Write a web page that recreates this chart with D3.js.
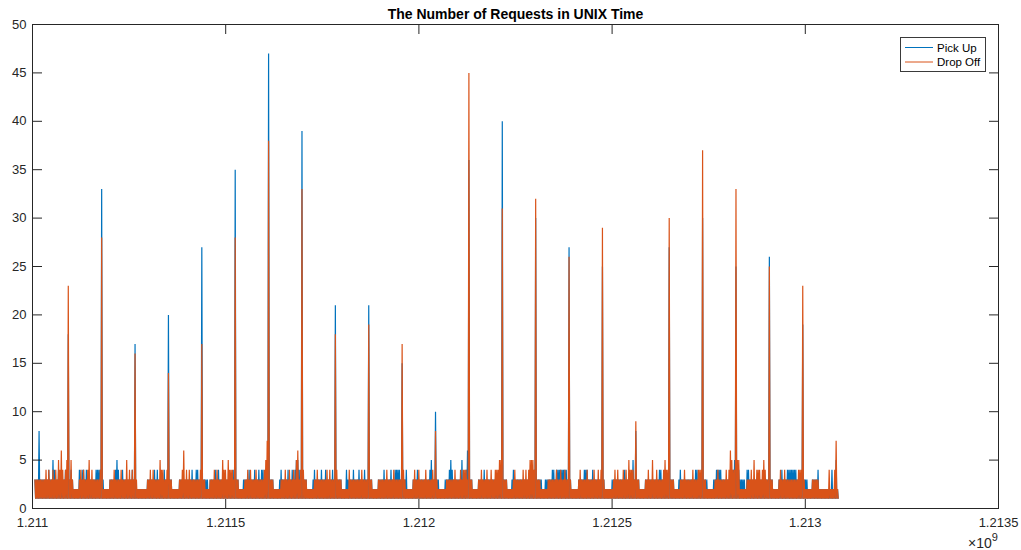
<!DOCTYPE html>
<html>
<head>
<meta charset="utf-8">
<script src="https://cdn.jsdelivr.net/npm/d3@7"></script>
<style>
  html, body { margin: 0; padding: 0; background: #ffffff; }
  svg { display: block; }
  text { font-family: "Liberation Sans", Arial, Helvetica, sans-serif; }
</style>
</head>
<body>
<svg id="chart" width="1021" height="550"></svg>
<script>
// ---- data -------------------------------------------------------------
const chartTitle = "The Number of Requests in UNIX Time";
const seriesNames = ["Pick Up", "Drop Off"];

// Samples are half-hourly; each string holds one day (48 samples, spaces only for readability).
// "*" marks the day's peak, taken in order from the matching peaks array.
const startTime = 1211006200;
const daySeconds = 86400;
const slotSeconds = 1800;

const pickUpDays = [
  "31313181 31313131 31314131 31514131 31413131 31314131",
  "*1314131 21212121 41314141 31413131 31313131 41414141",
  "*1312121 21213131 31314151 41313141 31313131 31314131",
  "*1212121 21212121 21313131 31314131 41313131 31413131",
  "*1313121 21212121 31313131 31313131 31413131 41413131",
  "*1313131 31213131 31314131 41313131 31313131 31313141",
  "*1313121 21213131 31314131 31314131 31413141 41313131",
  "*1313131 21212121 31413131 31314131 31413141 51514131",
  "*1313131 21212121 31413131 31314131 31413131 31314131",
  "*1313131 31212121 41313131 31413131 31413131 31413131",
  "*1313121 21212131 31313141 31313131 41313141 41414131",
  "*1313141 21212121 31313141 31313131 31313131 41513131",
  "*1313121 21212131 31314151 41313131 31313151 31314161",
  "*1313121 21212131 31313141 31313131 31313131 31313131",
  "*1313131 21212131 41313131 31313131 31313131 41413141",
  "*1313131 31212131 31313131 41413141 41414141 41414131",
  "*1312121 21212131 31313141 41413131 31413131 31313131",
  "*1312121 21212131 31313131 31313131 41313131 31315131",
  "*1313121 21212131 31313131 31313131 31414131 31313131",
  "*1313131 21212131 41313131 31313131 31313141 41313131",
  "*1313131 21212121 31314141 41413131 31313131 31314151",
  "*1314131 31313121 41413131 31313131 31313131 31313131",
  "*1313121 21212131 31413131 31414141 41414141 31313131",
  "*1313131 21212131 31313141 21212121 21212121 21412121",
  "*121"
];
const dropOffDays = [
  "31313131 31313131 41314131 31413141 31514161 41314151",
  "*1315131 21212121 31413141 31314151 31413131 31313141",
  "*1212121 21213131 31413131 31314131 31315131 41314131",
  "*1312121 21212121 21313141 31413131 31315141 41313141",
  "*1313121 21212121 31314161 31413141 31313131 31313141",
  "*1313121 21213131 31413141 31313151 41413151 41414131",
  "*1313121 21212131 31413141 31313141 31313131 31415171",
  "*1313131 21212121 21313131 41313141 31314131 51613141",
  "*1413131 21212121 21313141 31313131 31314131 41313131",
  "*1413131 31212121 21214131 31313131 31313141 31313131",
  "*1313121 21212131 31313131 31413131 31314131 31313131",
  "*1413121 21212121 31413131 41313131 31413131 31314131",
  "*1312121 21212121 31313131 31314131 31314131 41414131",
  "*1313121 21212131 31413131 31413131 41313141 41415151",
  "*1313131 21212121 31413131 31313141 31413141 51515141",
  "*1313131 21212121 21313131 31313141 31314131 31413131",
  "*1312121 21212131 41313131 31413131 31314131 31413141",
  "*1312121 21212121 31413141 31313141 31413151 41414131",
  "*1313121 21212131 31413131 51313141 31313131 41514141",
  "*1313131 21212121 31313141 31313131 31413131 31414141",
  "*1313121 21212121 21313141 31313131 31413141 61514141",
  "*1515121 21212121 31313141 31513141 41413141 51413131",
  "*1313121 21212131 41313141 31313131 31313131 31414141",
  "*1312121 21212131 31313131 21212121 21212141 21212141",
  "*121"
];
const pickUpPeaks  = [18, 33, 17, 20, 27, 35, 47, 39, 21, 21, 15, 10, 36, 40, 30, 27, 25, 8, 27, 30, 25, 26, 19, 5];
const dropOffPeaks = [23, 28, 16, 14, 17, 28, 38, 33, 18, 19, 17, 8, 45, 31, 32, 26, 29, 9, 30, 37, 33, 25, 23, 7];

const xTickValues = [1.211e9, 1.2115e9, 1.212e9, 1.2125e9, 1.213e9, 1.2135e9];
const xTickLabels = ["1.211", "1.2115", "1.212", "1.2125", "1.213", "1.2135"];
const yTickValues = [0, 5, 10, 15, 20, 25, 30, 35, 40, 45, 50];
const yTickLabels = ["0", "5", "10", "15", "20", "25", "30", "35", "40", "45", "50"];
const seriesColors = ["#0072BD", "#D95319"];

// ---- build point lists --------------------------------------------------
function buildSeries(days, peaks) {
  const pts = [];
  let k = 0;
  days.forEach((s, d) => {
    const chars = s.replace(/\s+/g, "");
    for (let i = 0; i < chars.length; i++) {
      const c = chars[i];
      const v = c === "*" ? peaks[k++] : +c;
      pts.push({ t: startTime + d * daySeconds + i * slotSeconds, v });
    }
  });
  return pts;
}
const pickUp = buildSeries(pickUpDays, pickUpPeaks);
const dropOff = buildSeries(dropOffDays, dropOffPeaks);

// ---- layout -------------------------------------------------------------
const svg = d3.select("#chart");
const plot = { left: 32.5, right: 998.5, top: 24.5, bottom: 508.5 };
const axisColor = "#262626";

const x = d3.scaleLinear().domain([1.211e9, 1.2135e9]).range([plot.left, plot.right]);
const y = d3.scaleLinear().domain([0, 50]).range([plot.bottom, plot.top]);

// plot background
svg.append("rect")
  .attr("x", plot.left).attr("y", plot.top)
  .attr("width", plot.right - plot.left).attr("height", plot.bottom - plot.top)
  .attr("fill", "#ffffff");

// ---- series -------------------------------------------------------------
const line = d3.line().x(d => x(d.t)).y(d => y(d.v));
[pickUp, dropOff].forEach((pts, i) => {
  svg.append("path")
    .datum(pts)
    .attr("d", line)
    .attr("fill", "none")
    .attr("stroke", seriesColors[i])
    .attr("stroke-width", 1.2);
});

// ---- axes (ticks point inward on all four sides) ------------------------
const tickLen = 9.5;
function styleAxis(g) {
  g.select(".domain").remove();
  g.selectAll(".tick line").attr("stroke", axisColor).attr("stroke-width", 1);
  g.selectAll(".tick text")
    .attr("fill", axisColor)
    .style("font-size", "13px");
}

svg.append("g")
  .attr("transform", `translate(0,${plot.bottom})`)
  .call(d3.axisBottom(x).tickValues(xTickValues)
    .tickFormat((d, i) => xTickLabels[i])
    .tickSizeInner(-tickLen).tickSizeOuter(0).tickPadding(9).offset(0))
  .call(styleAxis);

svg.append("g")
  .attr("transform", `translate(0,${plot.top})`)
  .call(d3.axisTop(x).tickValues(xTickValues).tickFormat("")
    .tickSizeInner(-tickLen).tickSizeOuter(0).offset(0))
  .call(styleAxis);

svg.append("g")
  .attr("transform", `translate(${plot.left},0)`)
  .call(d3.axisLeft(y).tickValues(yTickValues)
    .tickFormat((d, i) => yTickLabels[i])
    .tickSizeInner(-tickLen).tickSizeOuter(0).tickPadding(6).offset(0))
  .call(styleAxis);

svg.append("g")
  .attr("transform", `translate(${plot.right},0)`)
  .call(d3.axisRight(y).tickValues(yTickValues).tickFormat("")
    .tickSizeInner(-tickLen).tickSizeOuter(0).offset(0))
  .call(styleAxis);

// axes box
svg.append("rect")
  .attr("x", plot.left).attr("y", plot.top)
  .attr("width", plot.right - plot.left).attr("height", plot.bottom - plot.top)
  .attr("fill", "none").attr("stroke", axisColor).attr("stroke-width", 1);

// exponent label for the x axis
const expo = svg.append("text")
  .attr("x", 968).attr("y", 548)
  .attr("fill", axisColor)
  .style("font-size", "14px")
  .text("\u00d710");
expo.append("tspan")
  .attr("dy", -7)
  .style("font-size", "11px")
  .text("9");

// title
svg.append("text")
  .attr("x", (plot.left + plot.right) / 2)
  .attr("y", 19)
  .attr("text-anchor", "middle")
  .attr("fill", "#000000")
  .style("font-size", "14px")
  .style("font-weight", "bold")
  .text(chartTitle);

// ---- legend -------------------------------------------------------------
const legend = svg.append("g");
legend.append("rect")
  .attr("x", 900.5).attr("y", 37.5).attr("width", 85).attr("height", 34)
  .attr("fill", "#ffffff").attr("stroke", "#3a3a3a").attr("stroke-width", 1);
seriesNames.forEach((name, i) => {
  const ly = 47.5 + i * 14.5;
  legend.append("line")
    .attr("x1", 905).attr("x2", 933).attr("y1", ly).attr("y2", ly)
    .attr("stroke", seriesColors[i]).attr("stroke-width", 1);
  legend.append("text")
    .attr("x", 937).attr("y", ly + 4)
    .attr("fill", "#000000")
    .style("font-size", "11.5px")
    .text(name);
});
</script>
</body>
</html>
